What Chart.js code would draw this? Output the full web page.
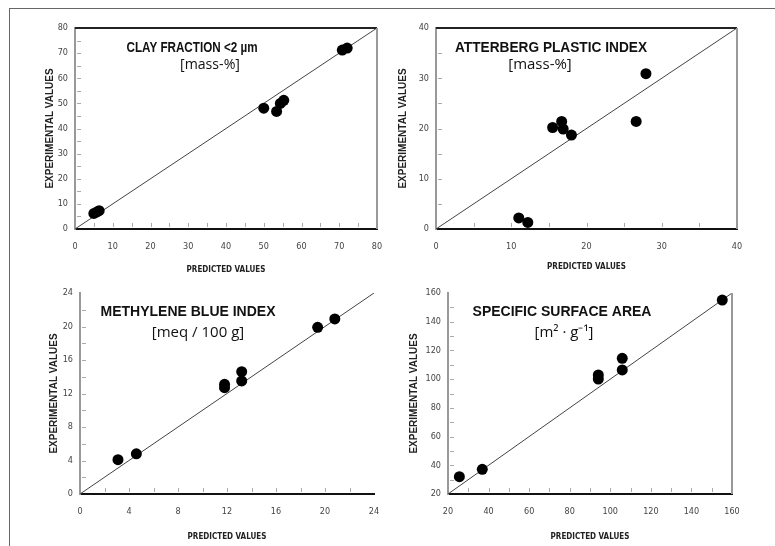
<!DOCTYPE html>
<html>
<head>
<meta charset="utf-8">
<script src="https://cdn.jsdelivr.net/npm/chart.js@4"></script>
<style>
  html, body { margin: 0; padding: 0; background: #fff; }
  #wrap { position: relative; width: 775px; height: 546px; overflow: hidden; }
  #wrap canvas { position: absolute; left: 0; top: 0; }
  #frame { position: absolute; left: 9px; top: 8px; width: 800px; height: 600px;
           border-top: 1.5px solid #666; border-left: 1.5px solid #666; }
</style>
</head>
<body>
<div id="wrap">
  <div id="frame"></div>
  <canvas id="c1" width="775" height="546"></canvas>
  <canvas id="c2" width="775" height="546"></canvas>
  <canvas id="c3" width="775" height="546"></canvas>
  <canvas id="c4" width="775" height="546"></canvas>
</div>
<script>
// clay fraction <2 um
const clayPredicted = [5.0, 5.8, 6.4, 50.0, 53.4, 54.4, 55.3, 70.8, 72.1];
const clayExperimental = [6.2, 6.8, 7.3, 48.1, 46.8, 50.0, 51.2, 71.2, 72.0];
// atterberg plastic index
const plasticPredicted = [11.0, 12.2, 15.5, 16.7, 16.9, 18.0, 26.6, 27.9];
const plasticExperimental = [2.2, 1.3, 20.2, 21.4, 19.9, 18.7, 21.4, 30.9];
// methylene blue index
const mbiPredicted = [3.1, 4.6, 11.8, 11.8, 13.2, 13.2, 19.4, 20.8];
const mbiExperimental = [4.1, 4.8, 12.7, 13.1, 14.6, 13.5, 19.9, 20.9];
// specific surface area
const ssaPredicted = [25.6, 36.9, 94.1, 94.1, 105.9, 105.9, 155.2];
const ssaExperimental = [32.1, 37.2, 102.9, 100.1, 114.5, 106.4, 155.1];

// axis ranges [min, max, step]
const clayRange = [0, 80, 10];
const plasticRange = [0, 40, 10];
const mbiRange = [0, 24, 4];
const ssaRange = [20, 160, 20];

const xAxisTitle = 'PREDICTED VALUES';
const yAxisTitle = 'EXPERIMENTAL VALUES';

const W = 775, H = 546;
const narrow = "'Liberation Sans Narrow', 'DejaVu Sans Condensed', sans-serif";

// text inside the plot + extra frame lines + inward minor ticks
const panelPlugin = {
  id: 'panel',
  afterDraw(chart, args, opts) {
    const ctx = chart.ctx;
    const a = chart.chartArea;
    ctx.save();
    // frame
    ctx.lineWidth = 2;
    if (opts.top) {
      ctx.strokeStyle = opts.top;
      ctx.beginPath(); ctx.moveTo(a.left, a.top); ctx.lineTo(a.right, a.top); ctx.stroke();
    }
    if (opts.right) {
      ctx.strokeStyle = opts.right;
      ctx.beginPath(); ctx.moveTo(a.right, a.top); ctx.lineTo(a.right, a.bottom); ctx.stroke();
    }
    // minor ticks
    const xs = chart.scales.x, ys = chart.scales.y;
    const half = opts.step / 2;
    ctx.strokeStyle = '#aaa';
    ctx.lineWidth = 1;
    for (let v = opts.min + half; v < opts.max; v += half) {
      const px = Math.round(xs.getPixelForValue(v)) + 0.5;
      ctx.beginPath(); ctx.moveTo(px, a.bottom - 2); ctx.lineTo(px, a.bottom - 6); ctx.stroke();
      const py = Math.round(ys.getPixelForValue(v)) + 0.5;
      ctx.beginPath(); ctx.moveTo(a.left + 2, py); ctx.lineTo(a.left + 6, py); ctx.stroke();
    }
    // titles
    ctx.fillStyle = '#111';
    ctx.textAlign = 'center';
    ctx.textBaseline = 'middle';
    ctx.font = "bold 14px 'Liberation Sans', Arial, sans-serif";
    ctx.fillText(opts.title, opts.tx, opts.ty, opts.tw);
    ctx.font = "15px 'Open Sans', sans-serif";
    ctx.fillText(opts.unit, opts.ux, opts.uy, opts.uw);
    ctx.restore();
  }
};

function makePanel(id, pred, exp, range, p) {
  const [min, max, step] = range;
  const pts = pred.map((x, i) => ({ x: x, y: exp[i] }));
  const yW = p.yW, xH = p.xH;
  return new Chart(document.getElementById(id), {
    type: 'scatter',
    data: {
      datasets: [
        {
          data: pts,
          backgroundColor: '#000',
          borderColor: '#000',
          pointRadius: 5.5,
          pointBorderWidth: 0
        },
        {
          type: 'line',
          data: [{ x: min, y: min }, { x: max, y: max }],
          borderColor: '#444',
          borderWidth: 1,
          pointRadius: 0,
          fill: false
        }
      ]
    },
    options: {
      responsive: false,
      animation: false,
      devicePixelRatio: 1,
      layout: {
        padding: { left: p.L - yW, right: W - p.R, top: p.T, bottom: H - p.B - xH }
      },
      plugins: {
        legend: { display: false },
        tooltip: { enabled: false },
        panel: {
          min: min, max: max, step: step,
          top: p.top, right: p.right,
          title: p.title, tx: p.tx, ty: p.ty, tw: p.tw,
          unit: p.unit, ux: p.ux, uy: p.uy, uw: p.uw
        }
      },
      scales: {
        x: {
          type: 'linear',
          min: min, max: max,
          afterFit(s) { s.height = xH; },
          grid: { display: false, drawTicks: false },
          border: { display: true, color: '#111', width: 2 },
          ticks: {
            stepSize: step, autoSkip: false, maxRotation: 0, padding: 12,
            color: '#444', font: { family: narrow, size: 9 }
          },
          title: {
            display: true, text: xAxisTitle, color: '#222', padding: 0,
            font: { family: narrow, size: 8, weight: 'bold' }
          }
        },
        y: {
          type: 'linear',
          min: min, max: max,
          afterFit(s) { s.width = yW; },
          grid: { display: false, drawTicks: false },
          border: { display: true, color: '#999', width: 2 },
          ticks: {
            stepSize: step, autoSkip: false, padding: 7,
            color: '#444', font: { family: narrow, size: 9 }
          },
          title: {
            display: true, text: yAxisTitle, color: '#222', padding: 0,
            font: { family: "'Liberation Sans', Arial, sans-serif", size: 10, weight: 'bold' }
          }
        }
      }
    },
    plugins: [panelPlugin]
  });
}

makePanel('c1', clayPredicted, clayExperimental, clayRange, {
  L: 75, R: 377, T: 28, B: 229, yW: 31, xH: 46,
  top: '#222', right: '#999',
  title: 'CLAY FRACTION <2 µm', tx: 192, ty: 48, tw: 131,
  unit: '[mass-%]', ux: 210, uy: 65, uw: 60
});
makePanel('c2', plasticPredicted, plasticExperimental, plasticRange, {
  L: 436, R: 737, T: 28, B: 229, yW: 39, xH: 43,
  top: '#222', right: '#999',
  title: 'ATTERBERG PLASTIC INDEX', tx: 551, ty: 48, tw: 192,
  unit: '[mass-%]', ux: 540, uy: 65, uw: 66
});
makePanel('c3', mbiPredicted, mbiExperimental, mbiRange, {
  L: 80, R: 374, T: 293, B: 494, yW: 32, xH: 48,
  top: null, right: null,
  title: 'METHYLENE BLUE INDEX', tx: 188, ty: 312, tw: 178,
  unit: '[meq / 100 g]', ux: 198, uy: 333, uw: 100
});
makePanel('c4', ssaPredicted, ssaExperimental, ssaRange, {
  L: 448, R: 732, T: 293, B: 494, yW: 40, xH: 48,
  top: null, right: '#999',
  title: 'SPECIFIC SURFACE AREA', tx: 562, ty: 312, tw: 182,
  unit: '[m² · g⁻¹]', ux: 564, uy: 333, uw: 64
});
</script>
</body>
</html>
